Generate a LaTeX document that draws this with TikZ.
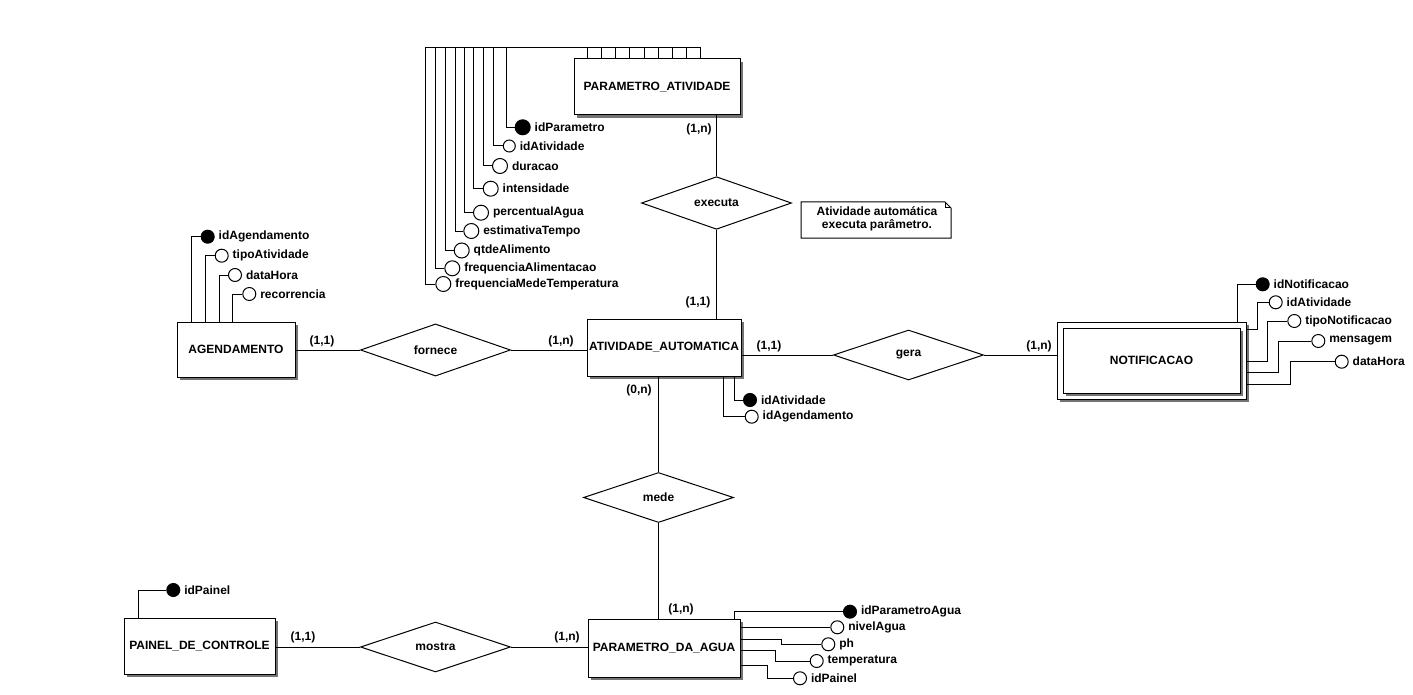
\documentclass[tikz,border=0pt]{standalone}
\usepackage{fontspec}
\setmainfont{Liberation Sans}
\usetikzlibrary{shapes.geometric,shadows}

\begin{document}
\begin{tikzpicture}[x=1pt,y=-1pt,line width=1pt,every node/.style={font=\bfseries\fontsize{12}{13}\selectfont},
  ent/.style={draw,fill=white,rectangle,inner sep=0pt,drop shadow={shadow xshift=3pt,shadow yshift=-3pt,fill=black!55,opacity=1}},
  rel/.style={draw,fill=white,diamond,inner sep=0pt,minimum width=150pt,minimum height=50pt},
  att/.style={circle,draw,fill=white,inner sep=0pt,minimum size=13pt},
  txt/.style={inner sep=1.5pt,label distance=2pt},
  attr/.style={att,label={[txt]right:#1}}, pkattr/.style={att,fill=black,label={[txt]right:#1}}]
\useasboundingbox (0,0) rectangle (1413,695);
\node[ent,minimum width=166pt,minimum height=56pt] (pa) at (657,87) {PARAMETRO\_ATIVIDADE};
\node[ent,minimum width=154pt,minimum height=57pt] (aa) at (664,347.5) {ATIVIDADE\_AUTOMATICA};
\node[ent,minimum width=118pt,minimum height=55pt] (ag) at (236,349.5) {AGENDAMENTO};
\node[ent,minimum width=189pt,minimum height=77pt] (no) at (1151.5,360.5) {};
\node[ent,minimum width=177pt,minimum height=65pt] (noi) at (1151.5,360.5) {NOTIFICACAO};
\node[ent,minimum width=152pt,minimum height=58pt] (pg) at (664,648) {PARAMETRO\_DA\_AGUA};
\node[ent,minimum width=151pt,minimum height=56pt] (pc) at (199.5,646) {PAINEL\_DE\_CONTROLE};
\node[rel] (ex) at (716.5,203) {executa}; \node[rel] (fo) at (435.5,350) {fornece};
\node[rel] (ge) at (908.5,355) {gera}; \node[rel] (me) at (658.5,497.5) {mede};
\node[rel] (mo) at (435.5,647) {mostra};
\draw (ex.north) -- (ex.north |- pa.south); \draw (ex.south) -- (ex.south |- aa.north);
\draw (fo.west -| ag.east) -- (fo.west); \draw (fo.east) -- (fo.east -| aa.west);
\draw (ge.west) -- (ge.west -| aa.east); \draw (ge.east) -- (ge.east -| no.west);
\draw (me.north) -- (me.north |- aa.south); \draw (me.south) -- (me.south |- pg.north);
\draw (mo.west) -- (mo.west -| pc.east); \draw (mo.east) -- (mo.east -| pg.west);
\node (c1) at (699,129) {(1,n)}; \node (c2) at (698,302) {(1,1)};
\node (c3) at (322,341) {(1,1)}; \node (c4) at (561,341) {(1,n)};
\node (c5) at (769,346) {(1,1)}; \node (c6) at (1039,346) {(1,n)};
\node (c7) at (639,390) {(0,n)}; \node (c8) at (681,609) {(1,n)};
\node (c9) at (303,637) {(1,1)}; \node (c10) at (567,637) {(1,n)};
\draw (801,202) -- (945,202) -- (951,208) -- (951,238) -- (801,238) -- cycle; \draw (945,202) |- (951,208);
\node[align=center] (nota) at (877,219) {Atividade automática\\executa parâmetro.};
\node[pkattr=idParametro,minimum size=15pt] (paId) at (522.7,127.3) {};
\node[attr=idAtividade,minimum size=12pt] (paAt) at (509.3,146) {};
\node[attr=duracao,minimum size=15pt] (paDu) at (500,166) {};
\node[attr=intensidade,minimum size=15pt] (paIn) at (490.7,188.7) {};
\node[attr=percentualAgua,minimum size=15pt] (paPc) at (481,212.7) {};
\node[attr=estimativaTempo,minimum size=15pt] (paEt) at (471.3,231) {};
\node[attr=qtdeAlimento,minimum size=15pt] (paQa) at (461.7,250.5) {};
\node[attr=frequenciaAlimentacao,minimum size=15pt] (paFa) at (452.3,268.3) {};
\node[attr=frequenciaMedeTemperatura,minimum size=15pt] (paFt) at (443.3,284) {};
\draw (pa.north west) ++(14,0) |- (506,48) |- (paId.west); \draw (pa.north west) ++(28,0) |- (493.3,48) |- (paAt.west);
\draw (pa.north west) ++(42,0) |- (483.3,48) |- (paDu.west); \draw (pa.north west) ++(56,0) |- (473.3,48) |- (paIn.west);
\draw (pa.north west) ++(71,0) |- (464.3,48) |- (paPc.west); \draw (pa.north west) ++(85,0) |- (455,48) |- (paEt.west);
\draw (pa.north west) ++(99,0) |- (445.7,48) |- (paQa.west); \draw (pa.north west) ++(113,0) |- (435.7,48) |- (paFa.west);
\draw (pa.north west) ++(127,0) |- (425.7,48) |- (paFt.west);
\node[pkattr=idAgendamento] (agId) at (207.7,236.7) {}; \node[attr=tipoAtividade] (agTp) at (221.7,255.7) {};
\node[attr=dataHora] (agDh) at (235,275) {}; \node[attr=recorrencia] (agRc) at (249.3,294) {};
\draw (ag.north west) ++(15,0) |- (agId.west); \draw (ag.north west) ++(29,0) |- (agTp.west);
\draw (ag.north west) ++(43,0) |- (agDh.west); \draw (ag.north west) ++(56,0) |- (agRc.west);
\node[pkattr=idAtividade] (aaId) at (750,400) {}; \node[attr=idAgendamento] (aaAg) at (751.7,416.7) {};
\draw (aa.south east) ++(-7,0) |- (aaId.west); \draw (aa.south east) ++(-18,0) |- (aaAg.west);
\node[pkattr=idNotificacao] (noId) at (1262.7,284.3) {}; \node[attr=idAtividade] (noAt) at (1275.7,302.3) {};
\node[attr=tipoNotificacao] (noTp) at (1294.3,321) {}; \node[attr=mensagem] (noMs) at (1318.3,341) {};
\node[attr=dataHora] (noDh) at (1341.7,361.7) {};
\draw (no.north east) ++(-9,0) |- (noId.west); \draw (no.north east) ++(0,8) -- ++(11,0) |- (noAt.west);
\draw (no.north east) ++(0,40) -- ++(21,0) |- (noTp.west); \draw (no.north east) ++(0,51) -- ++(32,0) |- (noMs.west);
\draw (no.north east) ++(0,63) -- ++(44,0) |- (noDh.west);
\node[pkattr=idParametroAgua] (pgId) at (850,611.7) {}; \node[attr=nivelAgua] (pgNv) at (837.3,627.3) {};
\node[attr=ph] (pgPh) at (828.3,644.3) {}; \node[attr=temperatura] (pgTp) at (816.7,661) {};
\node[attr=idPainel] (pgPn) at (800,678.3) {};
\draw (pg.north east) ++(-6,0) |- (pgId.west); \draw (pgNv.west -| pg.east) -- (pgNv.west);
\draw (pg.north east) ++(0,21) -- ++(41,0) |- (pgPh.west); \draw (pg.north east) ++(0,32) -- ++(35,0) |- (pgTp.west);
\draw (pg.north east) ++(0,47) -- ++(27,0) |- (pgPn.west);
\node[pkattr=idPainel] (pcId) at (173.3,590) {};
\draw (pc.north west) ++(15,0) |- (pcId.west);
\end{tikzpicture}
\end{document}
